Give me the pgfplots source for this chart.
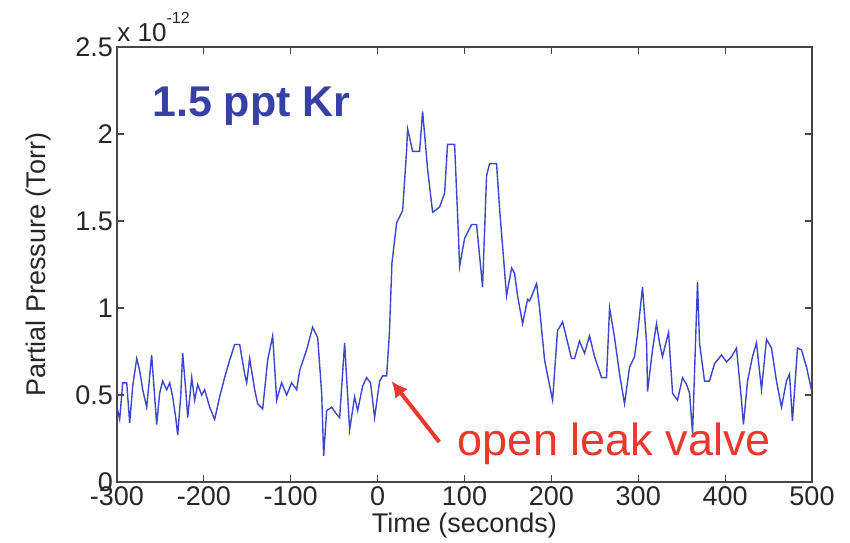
\documentclass[border=0pt]{standalone}
\usepackage{fontspec}
\setmainfont{Liberation Sans}
\usepackage{pgfplots}
\pgfplotsset{compat=1.18}
\usetikzlibrary{arrows.meta}
\definecolor{lineblue}{RGB}{60,70,205}
\definecolor{textblue}{RGB}{55,65,165}
\definecolor{annred}{RGB}{235,55,45}
\definecolor{axgray}{RGB}{70,70,70}
\begin{document}
\begin{tikzpicture}
\useasboundingbox (-58.5pt,-30pt) rectangle (366.5pt,241pt);
\begin{axis}[
  at={(0,0)}, anchor=south west,
  scale only axis, width=347.5pt, height=217.5pt,
  xmin=-300, xmax=500, ymin=0, ymax=2.5,
  xtick={-300,-200,-100,0,100,200,300,400,500},
  xticklabels={-300,-200,-100,0,100,200,300,400,500},
  ytick={0,0.5,1,1.5,2,2.5},
  yticklabels={0,0.5,1,1.5,2,2.5},
  tick align=inside, major tick length=3.5pt,
  axis line style={axgray, line width=0.6pt},
  every tick/.style={axgray, line width=0.6pt},
  tick label style={font=\fontsize{13.5}{16}\selectfont, text=black!85},
  yticklabel style={xshift=1.5pt},
  xticklabel style={yshift=1pt},
  /pgf/number format/assume math mode=true,
  xlabel={Time (seconds)},
  ylabel={Partial Pressure (Torr)},
  label style={font=\fontsize{13.5}{16}\selectfont, text=black!85},
  xlabel style={at={(axis description cs:0.5,0)}, anchor=base, yshift=-25pt},
  ylabel style={at={(axis description cs:-0.1022,0.5)}, anchor=base},
  clip=false,
]
\addplot[lineblue, line width=0.7pt] coordinates {
(-300,0.43) (-296.9,0.36) (-293.4,0.57) (-288.8,0.57) (-285.4,0.34) (-281.9,0.55)
(-277.3,0.71) (-273.9,0.64) (-270.4,0.53) (-265.8,0.43) (-260.1,0.73) (-257.8,0.57)
(-254.3,0.33) (-250.9,0.51) (-247.4,0.58) (-242.8,0.53) (-239.3,0.57) (-235.9,0.49)
(-232.4,0.37) (-230.1,0.27) (-226.7,0.49) (-224.4,0.74) (-220.9,0.53) (-218.6,0.37)
(-214.0,0.60) (-210.6,0.47) (-207.1,0.56) (-202.5,0.50) (-199.1,0.53) (-193.3,0.43)
(-187.6,0.36) (-181.8,0.49) (-176.1,0.60) (-170.3,0.70) (-164.6,0.79) (-158.8,0.79)
(-153.0,0.62) (-150.7,0.57) (-147.3,0.71) (-141.5,0.53) (-138.1,0.45) (-132.3,0.42)
(-126.6,0.70) (-120.8,0.84) (-116.2,0.47) (-110.5,0.57) (-104.7,0.50) (-99.0,0.57)
(-93.2,0.53) (-89.8,0.64) (-81.7,0.76) (-74.8,0.89) (-69.0,0.83) (-64.4,0.51)
(-62.1,0.15) (-58.7,0.41) (-52.9,0.43) (-47.2,0.39) (-43.7,0.37) (-38.0,0.80)
(-35.7,0.60) (-32.2,0.30) (-26.5,0.49) (-23.0,0.41) (-17.3,0.55) (-12.7,0.60)
(-8.1,0.57) (-3.5,0.37) (2.3,0.58) (5.8,0.61) (10.4,0.61) (13.5,0.85)
(16.5,1.26) (21.9,1.49) (28.8,1.56) (33.4,1.91) (34.5,2.03) (40.3,1.90)
(48.3,1.90) (51.8,2.13) (57.5,1.80) (63.3,1.55) (71.3,1.58) (77.1,1.66)
(80.5,1.94) (88.6,1.94) (92.1,1.53) (94.4,1.24) (100.1,1.40) (108.2,1.48)
(113.9,1.48) (120.8,1.12) (125.4,1.76) (128.9,1.83) (136.9,1.83) (140.4,1.57)
(148.4,1.07) (154.2,1.23) (157.6,1.20) (161.1,1.07) (166.9,0.91) (172.6,1.05)
(174.9,1.04) (183.0,1.14) (186.4,1.00) (192.2,0.70) (201.4,0.47) (207.1,0.87)
(212.9,0.92) (223.2,0.71) (226.7,0.71) (232.4,0.81) (238.2,0.74) (243.9,0.84)
(249.7,0.72) (257.8,0.60) (263.5,0.60) (267.0,1.00) (272.7,0.83) (278.5,0.62)
(284.2,0.45) (290.0,0.66) (295.7,0.72) (299.2,0.85) (304.9,1.12) (309.6,0.80)
(310.7,0.52) (316.4,0.76) (321.0,0.91) (324.5,0.80) (327.9,0.72) (330.3,0.77)
(334.9,0.86) (339.5,0.51) (345.2,0.47) (351.0,0.60) (355.6,0.56) (359.1,0.51)
(362.5,0.28) (368.2,1.15) (370.5,0.80) (376.3,0.58) (382.0,0.58) (387.8,0.68)
(395.8,0.73) (401.6,0.69) (407.3,0.72) (413.1,0.77) (418.8,0.47) (421.1,0.33)
(425.8,0.58) (431.5,0.72) (436.1,0.80) (441.9,0.53) (447.6,0.82) (453.4,0.77)
(459.1,0.58) (464.9,0.43) (470.6,0.58) (474.1,0.62) (477.5,0.35) (483.3,0.77)
(487.9,0.76) (493.7,0.66) (499.4,0.53)
};
\node[anchor=base west, inner sep=0pt, text=textblue, font=\fontsize{21.5}{24}\selectfont\bfseries]
  at (axis cs:-260,2.10) {1.5 ppt Kr};
\node[anchor=base west, inner sep=0pt, text=annred, font=\fontsize{22.5}{26}\selectfont]
  at (axis cs:92,0.155) {open leak valve};
\draw[annred, line width=2pt, -{Latex[length=8pt,width=8pt]}] (axis cs:71,0.23) -- (axis cs:16,0.58);
\node[anchor=base west, inner sep=0pt, yshift=3pt, text=black!85, font=\fontsize{13}{15}\selectfont]
  at (rel axis cs:0,1) {x 10\raisebox{9pt}{\fontsize{8}{9}\selectfont -12}};
\end{axis}
\end{tikzpicture}
\end{document}
